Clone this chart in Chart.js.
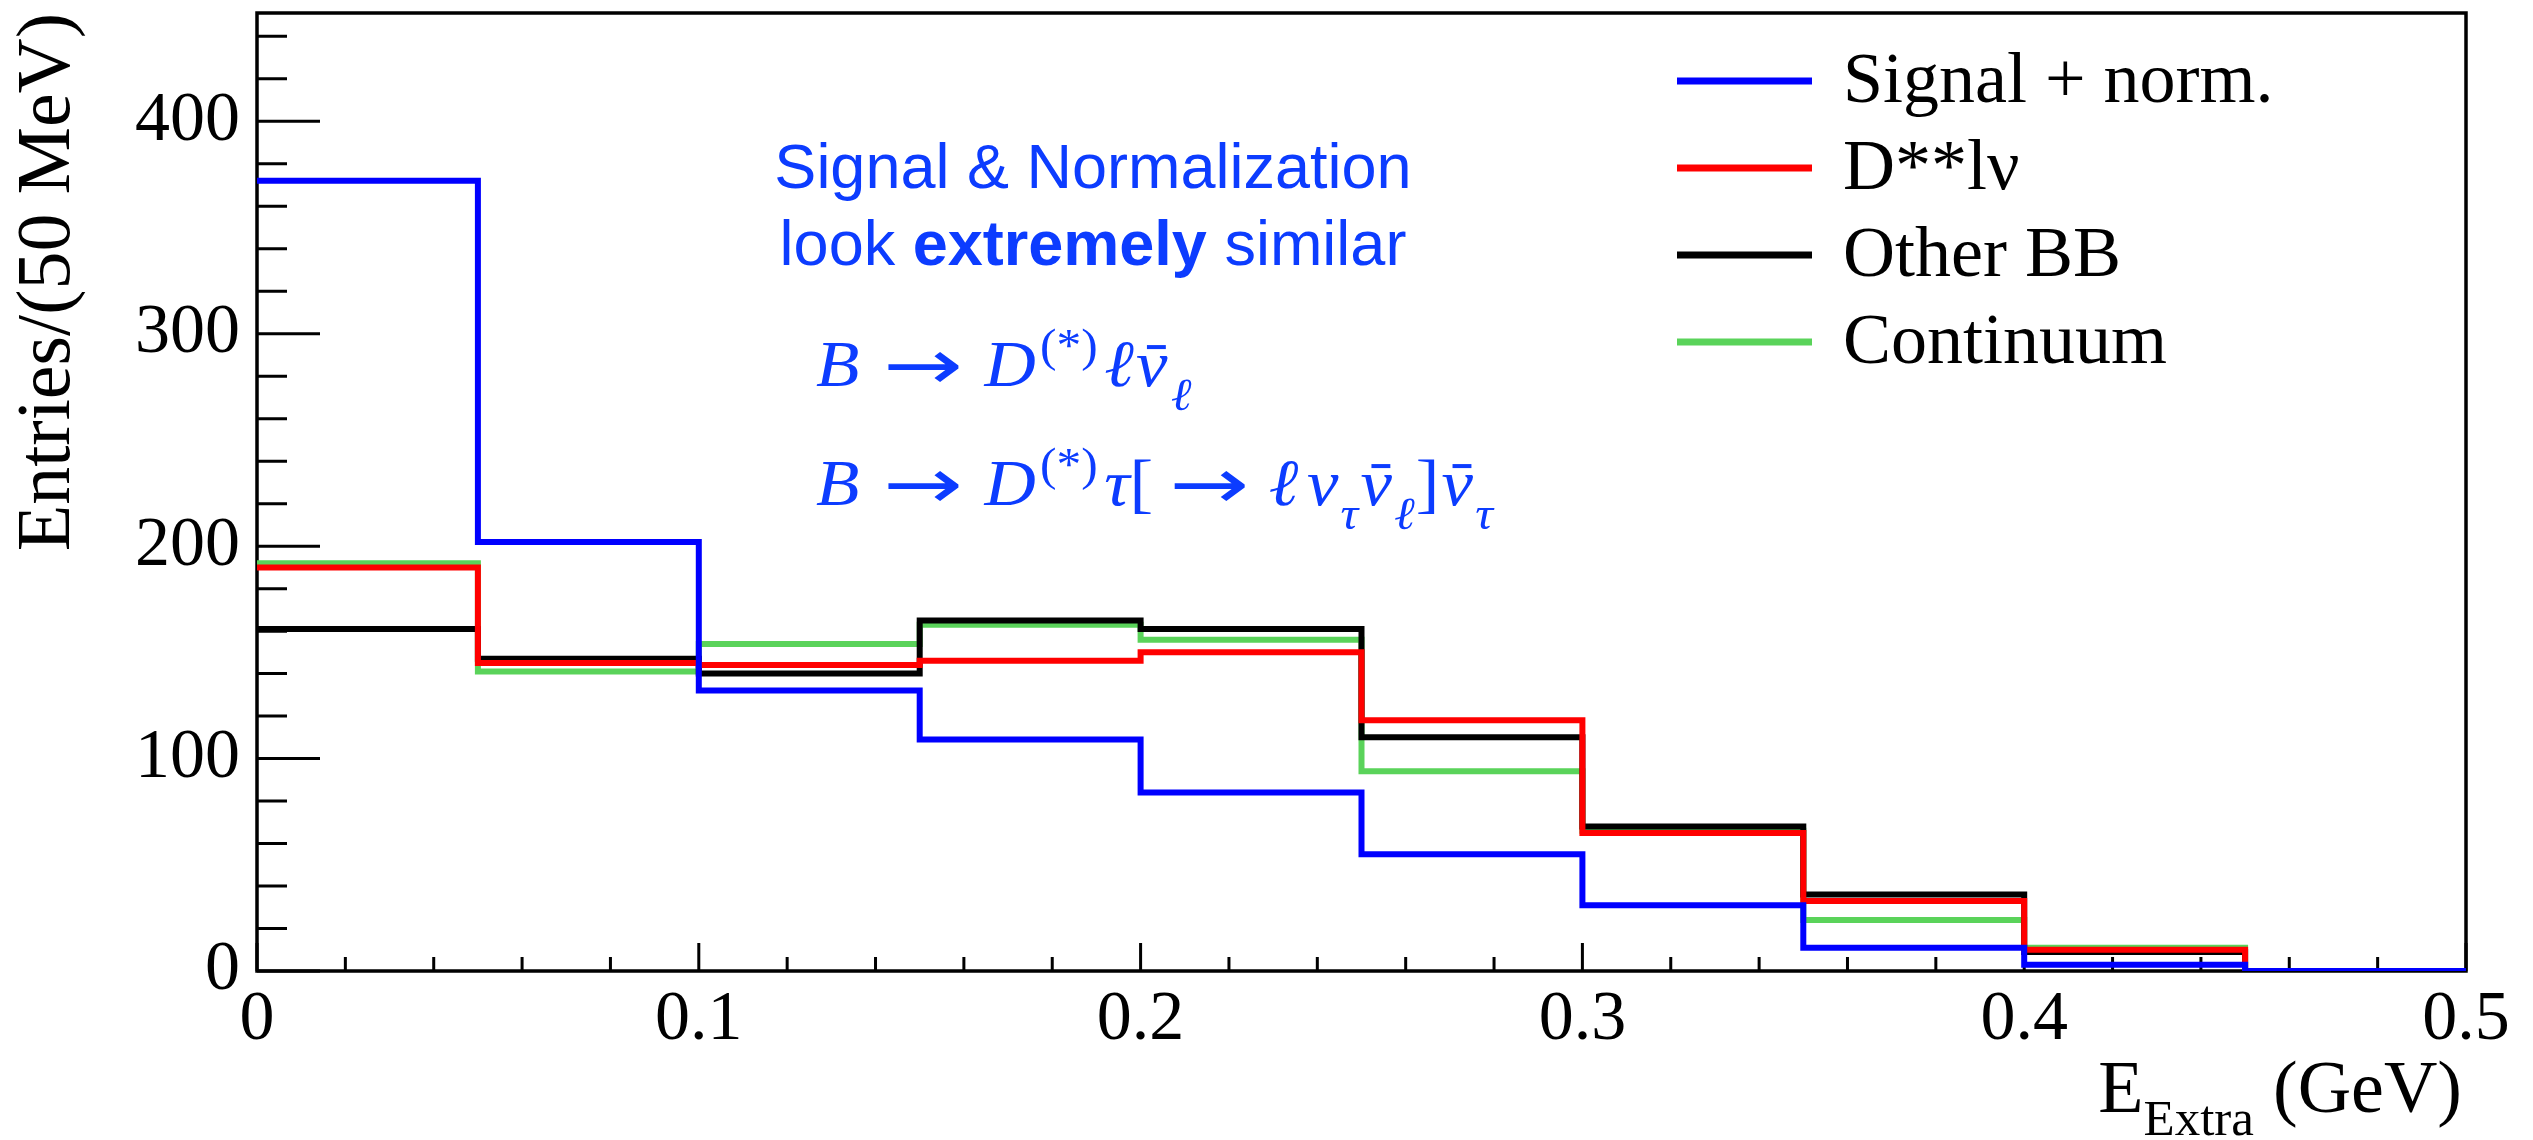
<!DOCTYPE html>
<html>
<head>
<meta charset="utf-8">
<title>E_Extra distribution</title>
<script src="https://cdn.jsdelivr.net/npm/chart.js@4.4.1/dist/chart.umd.min.js"></script>
<style>
  html, body { margin: 0; padding: 0; background: #fff; }
  #wrap { width: 2533px; height: 1140px; }
</style>
</head>
<body>
<div id="wrap"><canvas id="eExtraChart" width="2533" height="1140"></canvas></div>
<script>
// bin edges in GeV, 50 MeV bins
const binEdges = [0, 0.05, 0.1, 0.15, 0.2, 0.25, 0.3, 0.35, 0.4, 0.45, 0.5];

// entries per bin
const signalNorm = [372, 202, 132, 109, 84, 55, 31, 11, 3, 0];
const dssLnu     = [190, 145, 144, 146, 150, 118, 65, 33, 10, 0];
const otherBB    = [161, 147, 140, 165, 161, 110, 68, 36, 9, 0];
const continuum  = [192, 141, 154, 163, 156, 94, 66, 24, 11, 0];

const seriesLabels = ['Signal + norm.', 'D**lν', 'Other BB', 'Continuum'];
const seriesColors = ['#0000ff', '#ff0000', '#000000', '#5ad35a'];

const yTickLabels = [0, 100, 200, 300, 400];
const xTickLabels = [0, 0.1, 0.2, 0.3, 0.4, 0.5];

const serif = "'Liberation Serif', 'Times New Roman', serif";
const sans = "'Liberation Sans', Arial, sans-serif";
const arrowFont = "'DejaVu Sans', sans-serif";
const noteBlue = '#0c3cff';

// histogram -> step points (left edges + closing right edge)
const toSteps = (vals) => vals
    .map((v, i) => ({ x: binEdges[i], y: v }))
    .concat([{ x: binEdges[vals.length], y: vals[vals.length - 1] }]);

const seriesValues = [signalNorm, dssLnu, otherBB, continuum];

const datasets = seriesValues.map((vals, i) => ({
    label: seriesLabels[i],
    data: toSteps(vals),
    borderColor: seriesColors[i],
    backgroundColor: seriesColors[i],
    borderWidth: 6,
    stepped: 'before',
    pointRadius: 0,
    fill: false,
    borderJoinStyle: 'miter',
    borderCapStyle: 'butt'
}));

// formula pieces: kind main/sup/sub/arrow, it = italic, bar = overline
const decay1 = [
    { t: 'B', it: true },
    { t: '\u2192', kind: 'arrow', gap: 22 },
    { t: 'D', it: true, gap: 20 },
    { t: '(*)', kind: 'sup', gap: 4 },
    { t: '\u2113', it: true, gap: 6 },
    { t: '\u03bd', it: true, bar: true, gap: 2 },
    { t: '\u2113', it: true, kind: 'sub', gap: 3 }
];
const decay2 = [
    { t: 'B', it: true },
    { t: '\u2192', kind: 'arrow', gap: 22 },
    { t: 'D', it: true, gap: 20 },
    { t: '(*)', kind: 'sup', gap: 4 },
    { t: '\u03c4', it: true, gap: 6 },
    { t: '[' },
    { t: '\u2192', kind: 'arrow', gap: 15 },
    { t: '\u2113', it: true, gap: 18 },
    { t: '\u03bd', it: true, gap: 8 },
    { t: '\u03c4', it: true, kind: 'sub', gap: 2 },
    { t: '\u03bd', it: true, bar: true, gap: 2 },
    { t: '\u2113', it: true, kind: 'sub', gap: 2 },
    { t: ']', gap: 1 },
    { t: '\u03bd', it: true, bar: true, gap: 2 },
    { t: '\u03c4', it: true, kind: 'sub', gap: 2 }
];

function drawFormula(ctx, tokens, x0, baseline) {
    ctx.save();
    ctx.translate(x0, 0);
    ctx.scale(1.075, 1);
    let x = 0;
    tokens.forEach(tk => {
        x += tk.gap || 0;
        const kind = tk.kind || 'main';
        let size = 66, dy = 0, family = serif, stretch = 1;
        if (kind === 'sup') { size = 46; dy = -25; }
        if (kind === 'sub') { size = 46; dy = 24; }
        if (kind === 'arrow') { size = 70; dy = 3; family = arrowFont; stretch = 1.27; }
        ctx.font = `${tk.it ? 'italic ' : ''}${size}px ${family}`;
        const w = ctx.measureText(tk.t).width;
        ctx.save();
        ctx.translate(x, baseline + dy);
        ctx.scale(stretch, 1);
        ctx.fillText(tk.t, 0, 0);
        if (tk.bar) {
            ctx.fillRect(w * 0.35, -size * 0.62, w * 0.6, 4);
        }
        ctx.restore();
        x += w * stretch;
    });
    ctx.restore();
}

const rootStyle = {
    id: 'rootStyle',
    beforeDatasetsDraw(chart) {
        const { ctx, chartArea: a, scales: { x, y } } = chart;
        ctx.save();
        ctx.strokeStyle = '#000';
        ctx.lineWidth = 3;
        ctx.beginPath();
        // y ticks, inward
        for (let v = 0; v <= 440; v += 20) {
            const py = y.getPixelForValue(v);
            const len = v % 100 === 0 ? 63 : 30;
            ctx.moveTo(a.left, py);
            ctx.lineTo(a.left + len, py);
        }
        // x ticks, inward
        for (let i = 0; i <= 25; i++) {
            const px = x.getPixelForValue(i * 0.02);
            const len = i % 5 === 0 ? 28 : 14;
            ctx.moveTo(px, a.bottom);
            ctx.lineTo(px, a.bottom - len);
        }
        ctx.stroke();
        ctx.lineWidth = 3.5;
        ctx.strokeRect(a.left, a.top, a.right - a.left, a.bottom - a.top);
        ctx.restore();
    },
    afterDraw(chart) {
        const { ctx, chartArea: a } = chart;
        ctx.save();

        // legend
        chart.data.datasets.forEach((ds, i) => {
            const rowY = 81 + i * 87;
            ctx.fillStyle = ds.borderColor;
            ctx.fillRect(1677, rowY - 3.5, 135, 7);
            ctx.fillStyle = '#000';
            ctx.font = `72px ${serif}`;
            ctx.textBaseline = 'alphabetic';
            ctx.textAlign = 'left';
            ctx.fillText(ds.label, 1843, rowY + 21);
        });

        // x axis title with subscript
        ctx.fillStyle = '#000';
        ctx.textAlign = 'left';
        ctx.font = `74px ${serif}`;
        const wUnit = ctx.measureText('(GeV)').width;
        const wE = ctx.measureText('E').width;
        ctx.font = `51px ${serif}`;
        const wSub = ctx.measureText('Extra').width;
        const xUnit = a.right - 4 - wUnit;
        const xSub = xUnit - 19 - wSub;
        const xE = xSub - wE;
        ctx.font = `74px ${serif}`;
        ctx.fillText('E', xE, 1112);
        ctx.fillText('(GeV)', xUnit, 1112);
        ctx.font = `51px ${serif}`;
        ctx.fillText('Extra', xSub, 1135);

        // blue note
        ctx.fillStyle = noteBlue;
        ctx.textAlign = 'center';
        ctx.font = `63px ${sans}`;
        ctx.fillText('Signal & Normalization', 1093, 188);
        const parts = [['look ', `63px ${sans}`], ['extremely', `bold 63px ${sans}`], [' similar', `63px ${sans}`]];
        let total = 0;
        parts.forEach(p => { ctx.font = p[1]; total += ctx.measureText(p[0]).width; });
        let px = 1093 - total / 2;
        ctx.textAlign = 'left';
        parts.forEach(p => {
            ctx.font = p[1];
            ctx.fillText(p[0], px, 265);
            px += ctx.measureText(p[0]).width;
        });

        drawFormula(ctx, decay1, 816, 386);
        drawFormula(ctx, decay2, 816, 505);
        ctx.restore();
    }
};

new Chart(document.getElementById('eExtraChart'), {
    type: 'line',
    data: { datasets },
    options: {
        responsive: false,
        animation: false,
        devicePixelRatio: 1,
        layout: { padding: { top: 13, right: 67, left: 0, bottom: 0 } },
        plugins: { legend: { display: false }, tooltip: { enabled: false } },
        scales: {
            x: {
                type: 'linear',
                min: 0,
                max: 0.5,
                grid: { display: false, drawTicks: false },
                border: { display: false },
                afterBuildTicks: (scale) => { scale.ticks = xTickLabels.map(v => ({ value: v })); },
                afterFit: (scale) => { scale.height = 169; scale.paddingLeft = 0; scale.paddingRight = 0; },
                ticks: {
                    autoSkip: false,
                    maxRotation: 0,
                    padding: 8,
                    color: '#000',
                    font: { family: serif, size: 70 },
                    callback: (v) => String(v)
                }
            },
            y: {
                min: 0,
                max: 451,
                grid: { display: false, drawTicks: false },
                border: { display: false },
                afterBuildTicks: (scale) => { scale.ticks = yTickLabels.map(v => ({ value: v })); },
                afterFit: (scale) => { scale.width = 257; scale.paddingTop = 0; scale.paddingBottom = 0; },
                ticks: {
                    autoSkip: false,
                    padding: 17,
                    color: '#000',
                    font: { family: serif, size: 70 },
                    callback: (v) => String(v)
                },
                title: {
                    display: true,
                    text: 'Entries/(50 MeV)',
                    align: 'end',
                    color: '#000',
                    font: { family: serif, size: 76 },
                    padding: { top: 3, bottom: 0 }
                }
            }
        }
    },
    plugins: [rootStyle]
});
</script>
</body>
</html>
